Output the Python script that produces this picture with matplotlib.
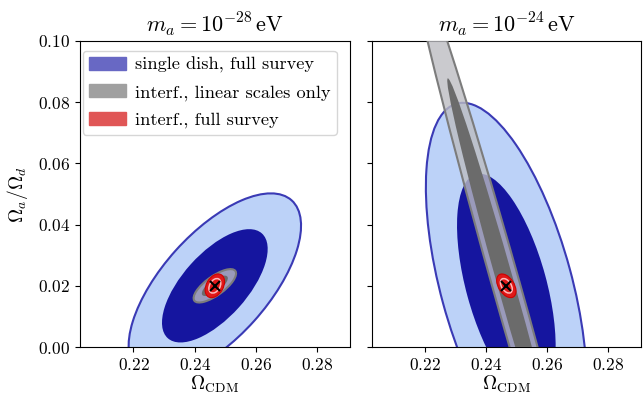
import numpy as np
import matplotlib.pyplot as plt
from matplotlib.patches import Ellipse, Patch

plt.rcParams['font.family'] = 'serif'
plt.rcParams['font.serif'] = ['cmr10']
plt.rcParams['mathtext.fontset'] = 'cm'
plt.rcParams['axes.formatter.use_mathtext'] = True
plt.rcParams['axes.unicode_minus'] = False

# fiducial point and forecast errors, one entry per axion mass
masses = [-28, -24]
fiducial = [0.2466, 0.02]
labels = ['single dish, full survey', 'interf., linear scales only', 'interf., full survey']

# sigma(Omega_CDM), sigma(Omega_a/Omega_d), correlation coefficient
sd_sig_x = [0.01137, 0.01065]
sd_sig_y = [0.01218, 0.02411]
sd_rho = [0.65, -0.54]
lin_sig_x = [0.0028, 0.01276]
lin_sig_y = [0.0022, 0.0446]
lin_rho = [0.74, -0.989]
full_sig_x = [0.00128, 0.00128]
full_sig_y = [0.00156, 0.00156]
full_rho = [0.35, -0.45]

xlim = (0.2025, 0.2908)
ylim = (0.0, 0.1)
xticks = [0.22, 0.24, 0.26, 0.28]
yticks = [0.0, 0.02, 0.04, 0.06, 0.08, 0.10]

# 1 and 2 sigma scalings for 2 parameters
k1, k2 = 1.52, 2.48


def ellipse(ax, sx, sy, rho, k, **kw):
    cov = np.array([[sx**2, rho*sx*sy], [rho*sx*sy, sy**2]])
    vals, vecs = np.linalg.eigh(cov)
    angle = np.degrees(np.arctan2(vecs[1, 1], vecs[0, 1]))
    w, h = 2*k*np.sqrt(vals[1]), 2*k*np.sqrt(vals[0])
    ax.add_patch(Ellipse(fiducial, w, h, angle=angle, **kw))


fig = plt.figure(figsize=(6.43, 3.96), dpi=100)
ax1 = fig.add_axes([0.1244, 0.1237, 0.4199, 0.7728])
ax2 = fig.add_axes([0.5785, 0.1237, 0.4184, 0.7728])

for i, ax in enumerate([ax1, ax2]):
    ellipse(ax, sd_sig_x[i], sd_sig_y[i], sd_rho[i], k2, fc='#bcd2f8', ec='#3a3ab5', lw=1.5, zorder=1)
    ellipse(ax, sd_sig_x[i], sd_sig_y[i], sd_rho[i], k1, fc='#15159f', ec='none', zorder=2)
    ellipse(ax, lin_sig_x[i], lin_sig_y[i], lin_rho[i], k2, fc=(0.74, 0.74, 0.76, 0.8), ec='#7c7c7c', lw=1.5, zorder=3)
    ellipse(ax, lin_sig_x[i], lin_sig_y[i], lin_rho[i], k1, fc='#6b6b6b', ec='none', zorder=4)
    ellipse(ax, full_sig_x[i], full_sig_y[i], full_rho[i], k2, fc='#e01818', ec='#d00000', lw=0.8, zorder=5)
    ellipse(ax, full_sig_x[i], full_sig_y[i], full_rho[i], k1, fc='#e01818', ec='#ffb8b8', lw=1.1, zorder=6)
    ax.plot(fiducial[0], fiducial[1], 'x', color='k', ms=7, mew=1.5, zorder=7)

    ax.set_xlim(xlim)
    ax.set_ylim(ylim)
    ax.set_xticks(xticks)
    ax.set_yticks(yticks)
    ax.tick_params(labelsize=12.5)
    ax.set_xlabel(r'$\Omega_{\rm CDM}$', fontsize=14, labelpad=1)
    ax.set_title(r'$m_a = 10^{%d}\,\mathrm{eV}$' % masses[i], fontsize=16, pad=7)

ax1.set_ylabel(r'$\Omega_a/\Omega_d$', fontsize=14, labelpad=6)
ax2.set_yticklabels([])

handles = [Patch(color='#6868c4'), Patch(color='#a0a0a0'), Patch(color='#e05656')]
ax1.legend(handles, labels, loc='upper left', bbox_to_anchor=(0.01, 0.968),
           borderaxespad=0, borderpad=0.35, fontsize=13.2, labelspacing=0.6,
           handletextpad=0.5)

fig.savefig('out.png', dpi=100)
